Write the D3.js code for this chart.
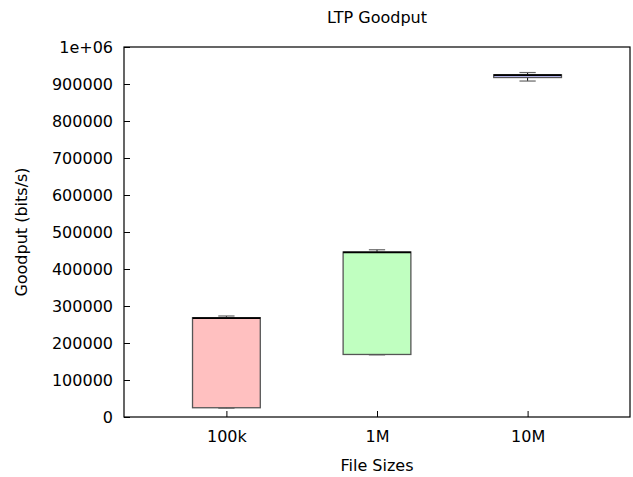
<!DOCTYPE html>
<html>
<head>
<meta charset="utf-8">
<script src="https://cdn.jsdelivr.net/npm/d3@7"></script>
<style>
  body { margin: 0; background: #fff; }
  text { font-family: "DejaVu Sans", sans-serif; fill: #000; }
</style>
</head>
<body>
<div id="chart"></div>
<script>
// candlestick data (bits/s)
var sizes   = ["100k", "1M", "10M"];
var boxLow  = [25000, 169000, 917500];
var boxHigh = [268500, 446000, 925000];
var whiskLo = [24000, 168000, 908000];
var whiskHi = [273000, 452000, 931000];
var medians = [267000, 445000, 924000];
var fills   = ["#ffc0c0", "#c0ffc0", "#c0c0ff"];
var yTicks  = [0, 100000, 200000, 300000, 400000, 500000, 600000, 700000, 800000, 900000, 1000000];

var W = 633, H = 477;
var pl = 124, pr = 630, pt = 47, pb = 417;
var fs = "16px";

var svg = d3.select("#chart").append("svg")
    .attr("width", W)
    .attr("height", H);

var x = d3.scaleLinear().domain([0.32, 3.68]).range([pl, pr]);
var y = d3.scaleLinear().domain([0, 1000000]).range([pb, pt]);
var boxW = 0.45;
var capW = 0.054;

// y axis ticks, drawn inward
var yAxis = d3.axisLeft(y).tickValues(yTicks).tickSizeInner(-6).tickSizeOuter(0)
    .tickPadding(11)
    .tickFormat(function(d){ return d == 1000000 ? "1e+06" : d3.format("d")(d); });
var gy = svg.append("g").attr("transform", "translate(" + pl + ",0)").call(yAxis);
gy.select(".domain").remove();
gy.selectAll("line").attr("stroke", "#000");
gy.selectAll("text").attr("dy", "0.35em").style("font-size", fs);

var xAxis = d3.axisBottom(x).tickValues([1, 2, 3]).tickSizeInner(-6).tickSizeOuter(0)
    .tickPadding(14)
    .tickFormat(function(d){ return sizes[d - 1]; });
var gx = svg.append("g").attr("transform", "translate(0," + pb + ")").call(xAxis);
gx.select(".domain").remove();
gx.selectAll("line").attr("stroke", "#000");
gx.selectAll("text").style("font-size", fs);
gy.attr("font-family", null); gx.attr("font-family", null);

var idx = d3.range(sizes.length);
var g = svg.append("g");

// whiskers
g.selectAll("line.wh").data(idx).enter().append("line")
    .attr("x1", function(i){ return x(i + 1); })
    .attr("x2", function(i){ return x(i + 1); })
    .attr("y1", function(i){ return y(whiskLo[i]); })
    .attr("y2", function(i){ return y(whiskHi[i]); })
    .attr("stroke", "#000").attr("stroke-width", 1);
[whiskLo, whiskHi].forEach(function(arr){
    g.selectAll(null).data(idx).enter().append("line")
        .attr("x1", function(i){ return x(i + 1 - capW); })
        .attr("x2", function(i){ return x(i + 1 + capW); })
        .attr("y1", function(i){ return y(arr[i]); })
        .attr("y2", function(i){ return y(arr[i]); })
        .attr("stroke", "#666").attr("stroke-width", 1.2);
});

// boxes
g.selectAll("rect").data(idx).enter().append("rect")
    .attr("x", function(i){ return x(i + 1 - boxW / 2); })
    .attr("width", function(i){ return x(i + 1 + boxW / 2) - x(i + 1 - boxW / 2); })
    .attr("y", function(i){ return y(boxHigh[i]); })
    .attr("height", function(i){ return y(boxLow[i]) - y(boxHigh[i]); })
    .attr("fill", function(i){ return fills[i]; })
    .attr("stroke", "#555").attr("stroke-width", 1.3);

// median line
g.selectAll("line.med").data(idx).enter().append("line")
    .attr("x1", function(i){ return x(i + 1 - boxW / 2); })
    .attr("x2", function(i){ return x(i + 1 + boxW / 2); })
    .attr("y1", function(i){ return y(medians[i]); })
    .attr("y2", function(i){ return y(medians[i]); })
    .attr("stroke", "#000").attr("stroke-width", 1.8);

// frame
svg.append("rect")
    .attr("x", pl).attr("y", pt)
    .attr("width", pr - pl).attr("height", pb - pt)
    .attr("fill", "none").attr("stroke", "#000").attr("stroke-width", 1.2);

svg.append("text").attr("x", (pl + pr) / 2).attr("y", 23)
    .attr("text-anchor", "middle").style("font-size", fs).text("LTP Goodput");
svg.append("text").attr("x", (pl + pr) / 2).attr("y", 471)
    .attr("text-anchor", "middle").style("font-size", fs).text("File Sizes");
svg.append("text").attr("transform", "translate(27," + (pt + pb) / 2 + ") rotate(-90)")
    .attr("text-anchor", "middle").style("font-size", fs).text("Goodput (bits/s)");
</script>
</body>
</html>
